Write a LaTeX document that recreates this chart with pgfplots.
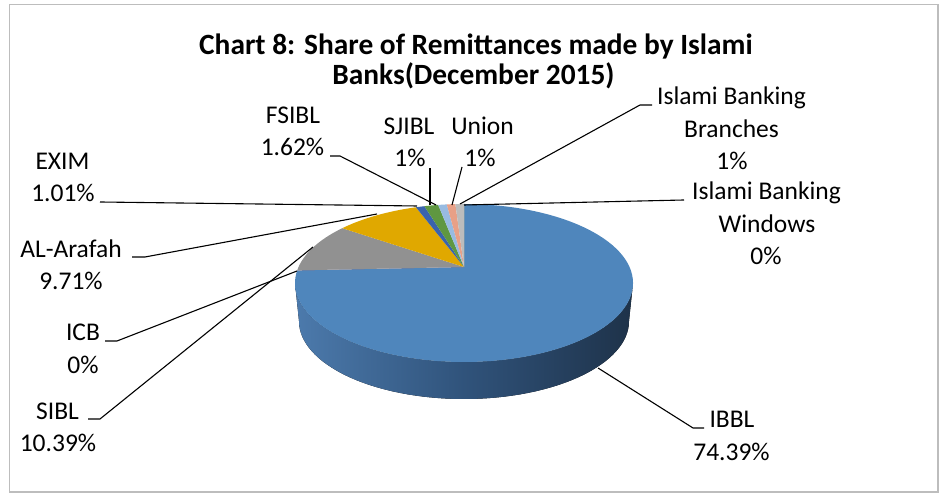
\documentclass[border=0pt]{standalone}
\usepackage{pgfplots}
\pgfplotsset{compat=1.18}
\usepackage{pgfplotstable}
\usepackage{fontspec}
\setmainfont{Carlito}

\definecolor{c0}{HTML}{4F86BC}% IBBL
\definecolor{c1}{HTML}{C0504D}% ICB
\definecolor{c2}{HTML}{919191}% SIBL
\definecolor{c3}{HTML}{E0A800}% AL-Arafah
\definecolor{c4}{HTML}{3A63AD}% EXIM
\definecolor{c5}{HTML}{5F9741}% FSIBL
\definecolor{c6}{HTML}{98BBE1}% SJIBL
\definecolor{c7}{HTML}{E8A087}% Union
\definecolor{c8}{HTML}{BCBCBC}% Branches
\definecolor{c9}{HTML}{FFD966}% Windows
\definecolor{sideL}{HTML}{4C7AAC}
\definecolor{sideM}{HTML}{30537B}
\definecolor{sideR}{HTML}{1E3249}
\definecolor{frame}{HTML}{BDBDBD}

\newcommand\lab{\fontsize{25.5}{30}\selectfont}
\newcommand\ttl{\fontsize{29.4}{30}\selectfont\bfseries}

% pie geometry (perspective projection of a disc)
\def\PA{169}\def\PB{79}\def\PXC{464}\def\PYC{211}\def\PYA{227}
\def\Ps{165.5}\def\Ph{75.8}\def\Pk{0.2025}
\newcommand\projt[1]{%
  \pgfmathsetmacro\den{1+\Pk*sin(#1)}%
  \pgfmathsetmacro\qx{\Ps*cos(#1)/\den/\PA}%
  \pgfmathsetmacro\qy{(\Ph*sin(#1)/\den+\PYA-\PYC)/\PB}%
  \pgfmathsetmacro\tres{atan2(\qy,\qx)}%
  \pgfmathsetmacro\tres{\tres+360*round((#1-\tres)/360)}%
}

\pgfplotstableread{
name      pct
IBBL      74.39
ICB       0
SIBL      10.39
AL-Arafah 9.71
EXIM      1.01
FSIBL     1.62
SJIBL     1
Union     1
Branches  1
Windows   0
}\piedata

\begin{document}
\xdef\tot{0}%
\foreach \i in {0,...,9}{%
  \pgfplotstablegetelem{\i}{pct}\of\piedata
  \pgfmathsetmacro\tmp{\tot+\pgfplotsretval}%
  \xdef\tot{\tmp}}%
\pgfmathsetmacro\degper{360/\tot}%
\xdef\degper{\degper}%
\xdef\cum{0}%
\foreach \i in {0,...,9}{%
  \pgfplotstablegetelem{\i}{pct}\of\piedata
  \pgfmathsetmacro\thA{90-\degper*\cum}%
  \pgfmathsetmacro\nc{\cum+\pgfplotsretval}%
  \pgfmathsetmacro\thB{90-\degper*\nc}%
  \xdef\cum{\nc}%
  \projt{\thA}\expandafter\xdef\csname tA\i\endcsname{\tres}%
  \pgfmathsetmacro\sx{\PXC+\PA*cos(\tres)}%
  \pgfmathsetmacro\sy{\PYC+\PB*sin(\tres)}%
  \expandafter\xdef\csname sx\i\endcsname{\sx}%
  \expandafter\xdef\csname sy\i\endcsname{\sy}%
  \projt{\thB}\expandafter\xdef\csname tB\i\endcsname{\tres}%
}%
\begin{tikzpicture}
\begin{axis}[x=1pt,y=1pt,xmin=0,xmax=940,ymin=0,ymax=494,hide axis,clip=false]
\fill[white] (0,0) rectangle (940,494);
\draw[frame, line width=1.5pt] (9.5,2) rectangle (938,489.5);
% side wall
\fill[left color=sideL, right color=sideR, middle color=sideM]
  (\PXC-\PA,\PYC) arc[start angle=180,end angle=360,x radius=169pt,y radius=79pt]
  -- (\PXC+165,\PYC-38) arc[start angle=0,end angle=-180,x radius=165pt,y radius=78pt] -- cycle;
% top wedges
\pgfplotsinvokeforeach{0,...,9}{%
  \fill[c#1] (\PXC,\PYA) -- (\csname sx#1\endcsname,\csname sy#1\endcsname)
    arc[start angle=\csname tA#1\endcsname, end angle=\csname tB#1\endcsname, x radius=169pt, y radius=79pt] -- cycle;
}
% leader lines
\begin{scope}[line width=1.1pt, black]
\draw (598,126) -- (693,66) -- (704,66);
\draw (313,247) -- (100,75) -- (88,75);
\draw (297,223) -- (117,153) -- (105,153);
\draw (377,280) -- (145,237) -- (132,237);
\draw (417,288) -- (100,292);
\draw (436,289) -- (340,338) -- (330,338);
\draw (430,289) -- (430,326);
\draw (452,289) -- (462,327);
\draw (460,290) -- (640,389) -- (652,389);
\draw (464,289) -- (684,294);
\end{scope}
% title
\node[anchor=base, font=\ttl] at (476,439.7) {Chart 8: Share of Remittances made by Islami};
\node[anchor=base, font=\ttl] at (473.5,409.7) {Banks(December 2015)};
% labels
\begin{scope}[every node/.style={anchor=base, font=\lab, inner sep=0pt}]
\node at (732,66) {IBBL};        \node at (731.5,33) {74.39\%};
\node at (57.5,74.7) {SIBL};     \node at (58,42.3) {10.39\%};
\node at (83,153.3) {ICB};       \node at (83,120.7) {0\%};
\node at (71,236.7) {AL-Arafah}; \node at (71,204) {9.71\%};
\node at (62.5,324.7) {EXIM};    \node at (63,292.3) {1.01\%};
\node at (293,370.5) {FSIBL};    \node at (292.5,338) {1.62\%};
\node at (409,359) {SJIBL};      \node at (410,327) {1\%};
\node at (482.5,359) {Union};    \node at (480,327) {1\%};
\node at (731.5,389) {Islami Banking}; \node at (731.5,356) {Branches}; \node at (732,324) {1\%};
\node at (766.5,294) {Islami Banking}; \node at (767,261.5) {Windows};  \node at (766,229) {0\%};
\end{scope}
\end{axis}
\end{tikzpicture}
\end{document}
